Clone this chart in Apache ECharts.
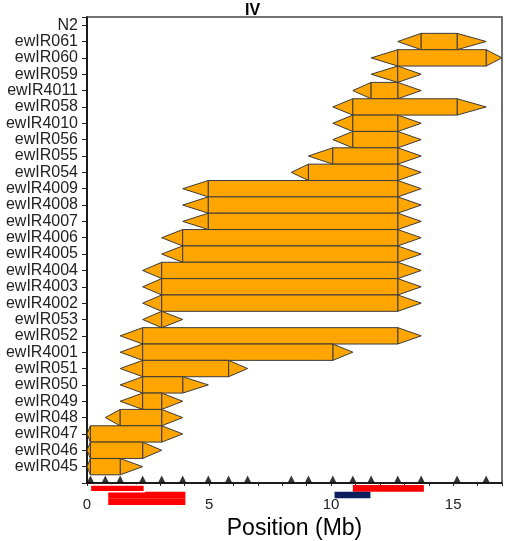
<!DOCTYPE html>
<html>
<head>
<meta charset="utf-8">
<script src="https://cdn.jsdelivr.net/npm/echarts@6/dist/echarts.min.js"></script>
<style>
  html, body { margin: 0; padding: 0; background: #fff; }
  #main { width: 505px; height: 541px; }
</style>
</head>
<body>
<div id="main"></div>
<script>
//////////// data, strains from top to bottom //////////////////
var strains = ['N2', 'ewIR061', 'ewIR060', 'ewIR059', 'ewIR4011', 'ewIR058', 'ewIR4010', 'ewIR056',
    'ewIR055', 'ewIR054', 'ewIR4009', 'ewIR4008', 'ewIR4007', 'ewIR4006', 'ewIR4005', 'ewIR4004',
    'ewIR4003', 'ewIR4002', 'ewIR053', 'ewIR052', 'ewIR4001', 'ewIR051', 'ewIR050', 'ewIR049',
    'ewIR048', 'ewIR047', 'ewIR046', 'ewIR045'];
// outer (arrow tip) and inner (core) bounds of each introgression, Mb
var leftTip   = [null, 12.73, 11.64, 11.64, 10.89, 10.07, 10.07, 10.07, 9.07, 8.37, 3.92, 3.92, 3.92, 3.06, 3.06, 2.28, 2.28, 2.28, 2.28, 1.36, 1.36, 1.36, 1.36, 1.36, 0.75, 0, 0, 0];
var coreStart = [null, 13.69, 12.73, 12.73, 11.64, 10.89, 10.89, 10.89, 10.07, 9.07, 4.97, 4.97, 4.97, 3.92, 3.92, 3.06, 3.06, 3.06, 3.06, 2.28, 2.28, 2.28, 2.28, 2.28, 1.36, 0.14, 0.14, 0.14];
var coreEnd   = [null, 15.16, 16.35, 12.73, 12.73, 15.16, 12.73, 12.73, 12.73, 12.73, 12.73, 12.73, 12.73, 12.73, 12.73, 12.73, 12.73, 12.73, 3.06, 12.73, 10.07, 5.80, 3.92, 3.06, 3.06, 3.06, 2.28, 1.36];
var rightTip  = [null, 16.35, 17.0, 13.69, 13.69, 16.35, 13.69, 13.69, 13.69, 13.69, 13.69, 13.69, 13.69, 13.69, 13.69, 13.69, 13.69, 13.69, 3.92, 13.69, 10.89, 6.58, 4.97, 3.92, 3.92, 3.92, 3.06, 2.28];
// genotyped markers along the chromosome, Mb
var markers = [0.14, 0.75, 1.36, 2.28, 3.06, 3.92, 4.97, 5.80, 6.58, 8.37, 9.07, 10.07, 10.89, 11.64, 12.73, 13.69, 15.16, 16.35];
// QTL intervals under the axis: [start, end, lane]
var qtlRed  = [[0.87, 4.03, 1], [0.87, 4.03, 2], [10.89, 13.80, 0], [0.14, 2.35, 0]];
var qtlBlue = [[10.14, 11.61, 1]];

var n = strains.length;
var barData = [];
for (var i = 0; i < n; i++) {
    if (leftTip[i] === null) continue;
    barData.push([n - 1 - i, leftTip[i], coreStart[i], coreEnd[i], rightTip[i]]);
}

function renderIntrogression(params, api) {
    var y = api.value(0);
    var h = api.size([0, 1])[1];
    var pLt = api.coord([api.value(1), y]);
    var pCs = api.coord([api.value(2), y]);
    var pCe = api.coord([api.value(3), y]);
    var pRt = api.coord([api.value(4), y]);
    var cy = pLt[1], top = cy - h / 2, bot = cy + h / 2;
    var st = { fill: '#FFA500', stroke: '#3a3a3a', lineWidth: 1 };
    var children = [
        { type: 'polygon', shape: { points: [[pLt[0], cy], [pCs[0], top], [pCs[0], bot]] }, style: st },
        { type: 'polygon', shape: { points: [[pRt[0], cy], [pCe[0], top], [pCe[0], bot]] }, style: st }
    ];
    if (pCe[0] - pCs[0] > 0.5) {
        children.push({ type: 'rect', shape: { x: pCs[0], y: top, width: pCe[0] - pCs[0], height: h }, style: st });
    }
    return { type: 'group', children: children };
}

function renderQtl(color, border) {
    return function (params, api) {
        var lane = api.value(2);
        var a = api.coord([api.value(0), lane]);
        var b = api.coord([api.value(1), lane + 1]);
        return {
            type: 'rect',
            shape: { x: a[0], y: a[1], width: b[0] - a[0], height: b[1] - a[1] },
            style: { fill: color, stroke: border, lineWidth: border ? 1.5 : 0 }
        };
    };
}

var chart = echarts.init(document.getElementById('main'));
var option = {
    backgroundColor: '#FFFFFF',
    animation: false,
    title: {
        text: 'IV',
        left: 'center',
        top: 3,
        padding: 0,
        textStyle: { fontFamily: 'Liberation Sans', fontSize: 16, fontWeight: 'bold', color: '#000' }
    },
    grid: [
        { left: 87, right: 3, top: 17, bottom: 58, containLabel: false, outerBoundsMode: 'none',
          show: true, borderColor: '#444', borderWidth: 1.5 },
        { left: 87, right: 3, top: 485, height: 20, containLabel: false, outerBoundsMode: 'none' }
    ],
    xAxis: [
        {
            type: 'value', gridIndex: 0, min: 0, max: 17, interval: 1,
            name: 'Position (Mb)', nameLocation: 'middle', nameGap: 34,
            nameTextStyle: { fontFamily: 'Liberation Sans', fontSize: 23, color: '#000' },
            axisLine: { onZero: false, lineStyle: { color: '#000', width: 1.5 } },
            axisTick: { length: 3, lineStyle: { color: '#222' } },
            splitLine: { show: false },
            axisLabel: {
                margin: 14, fontFamily: 'Liberation Sans', fontSize: 15, color: '#222',
                formatter: function (v) { return (v % 5 === 0 && v < 17) ? String(v) : ''; }
            }
        },
        { type: 'value', gridIndex: 1, min: 0, max: 17, show: false }
    ],
    yAxis: [
        {
            type: 'value', gridIndex: 0, min: -1, max: 27.5, interval: 1,
            axisLine: { show: true, onZero: false, lineStyle: { color: '#000', width: 1.5 } },
            axisTick: { show: true, length: 5, lineStyle: { color: '#222' } },
            splitLine: { show: false },
            axisLabel: {
                margin: 9, fontFamily: 'Liberation Sans', fontSize: 16, color: '#222',
                formatter: function (v) { return strains[n - 1 - v] || ''; }
            }
        },
        { type: 'value', gridIndex: 1, min: 0, max: 3, inverse: true, show: false }
    ],
    series: [
        {
            type: 'custom', name: 'introgression', xAxisIndex: 0, yAxisIndex: 0,
            renderItem: renderIntrogression, data: barData, clip: true,
            encode: { x: [1, 2, 3, 4], y: 0 }
        },
        {
            type: 'scatter', name: 'markers', xAxisIndex: 0, yAxisIndex: 0,
            symbol: 'triangle', symbolSize: [7, 7], symbolOffset: [0, -4],
            itemStyle: { color: '#000' }, z: 5,
            data: markers.map(function (m) { return [m, -1]; })
        },
        {
            type: 'custom', name: 'qtl red', xAxisIndex: 1, yAxisIndex: 1,
            renderItem: (function () {
                var plain = renderQtl('#FF0000', null), edged = renderQtl('#FF0000', '#FFFFFF');
                return function (params, api) {
                    return params.dataIndex === qtlRed.length - 1 ? edged(params, api) : plain(params, api);
                };
            })(),
            data: qtlRed, encode: { x: [0, 1], y: 2 }
        },
        {
            type: 'custom', name: 'qtl blue', xAxisIndex: 1, yAxisIndex: 1,
            renderItem: renderQtl('#0B1F5E', null),
            data: qtlBlue, encode: { x: [0, 1], y: 2 }, z: 3
        }
    ]
};
chart.setOption(option);
</script>
</body>
</html>
